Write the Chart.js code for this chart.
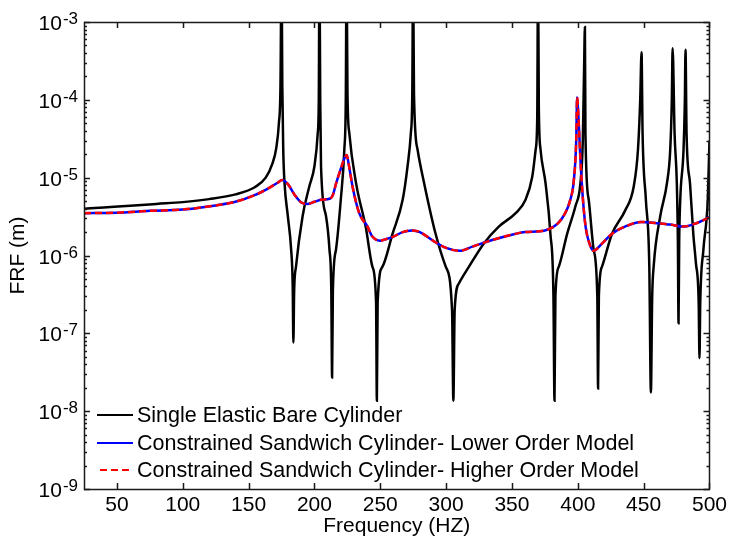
<!DOCTYPE html>
<html><head><meta charset="utf-8">
<script src="https://cdn.jsdelivr.net/npm/chart.js@4.4.1/dist/chart.umd.min.js"></script>
<style>html,body{margin:0;padding:0;background:#fff;}#wrap{width:731px;height:542px;position:relative;}</style>
</head><body><div id="wrap"><canvas id="c" width="731" height="542"></canvas></div>
<script>
// ---- data ----
const bareFreq = [25,40,60,80,100,120,140,155,163,168,171,173,174.2,175,175.6,176.3,177.3,179.8,182.3,183.5,184,184.6,186,191,196,200,202.5,203.3,203.8,204.4,205,208.8,211.4,212.8,213.4,214,216.4,220,222.7,223.8,224.4,225.1,226.5,231.6,239,244,246.8,247.4,248,251.7,259.3,267,270.7,273.2,274.3,274.9,275.6,278.3,283.3,292,299.7,304.5,305.5,306.5,309.8,317.4,328.8,340,352.8,360.3,365.4,368,369.2,369.8,370.4,371.7,375.5,379.2,381.5,382.3,383,385.6,391.9,398.2,402,403.8,404.8,405.4,405.8,408.3,412,414.8,415.4,416,418.4,426,436,442.4,445.7,447.4,448.4,449.2,451.7,454.3,455.5,456.5,457.6,462.6,467.7,470.2,471.4,472,473.5,475.2,476,476.5,477,477.8,480.3,481.3,481.8,482.6,485.2,487.7,489.7,491.8,492.4,493,495.4,498.7,499.5,500];
const bareFRF = [4.0e-6,4.15e-6,4.35e-6,4.6e-6,4.85e-6,5.3e-6,6.1e-6,7.6e-6,1.0e-5,1.5e-5,2.4e-5,5.0e-5,1.5e-4,5e-3,1.5e-4,2.3e-5,8.5e-6,3.2e-6,1.2e-6,4e-7,7.6e-8,3.5e-7,7.2e-7,3.2e-6,7.6e-6,1.4e-5,3.7e-5,1.0e-4,5e-3,1.0e-4,1.4e-5,3.2e-6,1.2e-6,3.5e-7,2.7e-8,3.5e-7,1.2e-6,5.2e-6,2.3e-5,1.0e-4,5e-3,1.2e-4,3.7e-5,8.5e-6,2.3e-6,7.2e-7,2.5e-7,1.36e-8,2.5e-7,7.2e-7,1.9e-6,5.2e-6,1.4e-5,3.7e-5,1.2e-4,5e-3,1.2e-4,2.3e-5,8.5e-6,1.9e-6,7.2e-7,2e-7,1.36e-8,2e-7,4.4e-7,7.2e-7,1.44e-6,2.35e-6,3.5e-6,5.2e-6,1.03e-5,2.3e-5,6e-5,5e-3,8e-5,2.3e-5,8.5e-6,1.9e-6,3e-7,1.36e-8,3e-7,7.2e-7,1.9e-6,4.3e-6,8.5e-6,3e-5,2.7e-4,8.6e-4,3.7e-5,5.2e-6,1.2e-6,3e-7,1.95e-8,3e-7,7.2e-7,1.9e-6,3.8e-6,7.6e-6,2.3e-5,1e-4,4.1e-4,3.7e-5,5.2e-6,7.2e-7,1.74e-8,3e-7,7.2e-7,3.2e-6,8.5e-6,2.3e-5,1e-4,4.6e-4,3.7e-5,8.5e-6,1.5e-6,1.35e-7,1.5e-6,5.2e-6,2.3e-5,1e-4,4.4e-4,3.7e-5,8.5e-6,1.9e-6,8e-7,2.5e-7,4.8e-8,2.5e-7,1.2e-6,5.2e-6,1.5e-5,3e-5];
const sandFreq = [25,50,75,100,125,140,155,165,172,175.5,180,185,190,195,200,205,212,214,216.5,220,223,224.5,226,229,234,240,244,250,253,260,267,274,280,290,300,310,320,335,350,360,375,385,390,394,397,398.8,399.5,400.5,402,404,406,409,412,418,426,437,448,460,470,480,490,500];
const lowerFRF = [3.5e-6,3.55e-6,3.75e-6,3.9e-6,4.4e-6,4.9e-6,6.0e-6,7.3e-6,8.6e-6,9.3e-6,8.2e-6,6.0e-6,4.8e-6,4.6e-6,4.9e-6,5.2e-6,5.4e-6,6.0e-6,8.5e-6,1.3e-5,1.8e-5,1.95e-5,1.5e-5,7.6e-6,3.5e-6,2.4e-6,1.75e-6,1.55e-6,1.6e-6,1.75e-6,2.0e-6,2.1e-6,2.0e-6,1.55e-6,1.25e-6,1.15e-6,1.3e-6,1.58e-6,1.85e-6,2.0e-6,2.1e-6,2.6e-6,3.4e-6,5e-6,9.3e-6,3e-5,1.08e-4,6e-5,1.7e-5,5e-6,2.3e-6,1.4e-6,1.15e-6,1.4e-6,1.9e-6,2.4e-6,2.7e-6,2.6e-6,2.5e-6,2.35e-6,2.6e-6,3.1e-6];
const higherFRF = [3.5e-6,3.55e-6,3.75e-6,3.9e-6,4.4e-6,4.9e-6,6.0e-6,7.3e-6,8.6e-6,9.3e-6,8.2e-6,6.0e-6,4.8e-6,4.6e-6,4.9e-6,5.2e-6,5.4e-6,6.0e-6,8.5e-6,1.3e-5,1.8e-5,1.95e-5,1.5e-5,7.6e-6,3.5e-6,2.4e-6,1.75e-6,1.55e-6,1.6e-6,1.75e-6,2.0e-6,2.1e-6,2.0e-6,1.55e-6,1.25e-6,1.15e-6,1.3e-6,1.58e-6,1.85e-6,2.0e-6,2.1e-6,2.6e-6,3.4e-6,5e-6,9.3e-6,3e-5,1.08e-4,6e-5,1.7e-5,5e-6,2.3e-6,1.4e-6,1.15e-6,1.4e-6,1.9e-6,2.4e-6,2.7e-6,2.6e-6,2.5e-6,2.35e-6,2.6e-6,3.1e-6];
const seriesNames = ['Single Elastic Bare Cylinder','Constrained Sandwich Cylinder- Lower Order Model','Constrained Sandwich Cylinder- Higher Order Model'];
const xTickValues = [50,100,150,200,250,300,350,400,450,500];
const yExponents = [-9,-8,-7,-6,-5,-4,-3];
const xTitle = 'Frequency (HZ)';
const yTitle = 'FRF (m)';

const FONT = '"Liberation Sans", Arial, Helvetica, sans-serif';
const toXY = (xs, ys) => xs.map((x, i) => ({x: x, y: ys[i]}));

const frameAndLabels = {
  id: 'frameAndLabels',
  afterDatasetsDraw(chart) {
    const {ctx, chartArea: a, scales} = chart;
    const xs = scales.x, ys = scales.y;
    ctx.save();
    ctx.strokeStyle = '#1a1a1a';
    ctx.lineWidth = 1.5;
    ctx.beginPath();
    xTickValues.forEach(v => {
      const px = Math.round(xs.getPixelForValue(v)) + 0.5;
      ctx.moveTo(px, a.bottom); ctx.lineTo(px, a.bottom - 6);
      ctx.moveTo(px, a.top); ctx.lineTo(px, a.top + 6);
    });
    yExponents.forEach(k => {
      for (let m = 1; m <= 9; m++) {
        if (k === -3 && m > 1) break;
        const py = Math.round(ys.getPixelForValue(m * Math.pow(10, k))) + 0.5;
        const len = m === 1 ? 6 : 3;
        ctx.moveTo(a.left, py); ctx.lineTo(a.left + len, py);
        ctx.moveTo(a.right, py); ctx.lineTo(a.right - len, py);
      }
    });
    ctx.stroke();
    ctx.strokeRect(Math.round(a.left) + 0.5, Math.round(a.top) + 0.5, Math.round(a.right - a.left), Math.round(a.bottom - a.top));

    ctx.fillStyle = '#000';
    ctx.textAlign = 'right';
    ctx.textBaseline = 'alphabetic';
    yExponents.forEach(k => {
      const py = ys.getPixelForValue(Math.pow(10, k));
      const exp = String(k);
      ctx.font = '17px ' + FONT;
      const w = ctx.measureText(exp).width;
      const xr = 78;
      ctx.fillText(exp, xr, py + 2);
      ctx.font = '21px ' + FONT;
      ctx.fillText('10', xr - w - 1, py + 8);
    });

    const rows = [
      {y: 415, color: '#000', dash: []},
      {y: 443, color: '#0000ff', dash: []},
      {y: 470, color: '#ff0000', dash: [7, 4]}
    ];
    ctx.textAlign = 'left';
    ctx.textBaseline = 'middle';
    ctx.font = '21.5px ' + FONT;
    rows.forEach((r, i) => {
      ctx.strokeStyle = r.color;
      ctx.lineWidth = 2;
      ctx.setLineDash(r.dash);
      ctx.beginPath();
      ctx.moveTo(i === 2 ? 100 : 97, r.y); ctx.lineTo(133, r.y);
      ctx.stroke();
      ctx.setLineDash([]);
      ctx.fillStyle = '#000';
      ctx.fillText(seriesNames[i], 137, r.y + 1);
    });
    ctx.restore();
  }
};

new Chart(document.getElementById('c'), {
  type: 'line',
  data: {
    datasets: [
      {label: seriesNames[0], data: toXY(bareFreq, bareFRF), borderColor: '#000', borderWidth: 2.5, pointRadius: 0, cubicInterpolationMode: 'monotone', order: 3},
      {label: seriesNames[1], data: toXY(sandFreq, lowerFRF), borderColor: '#0000ff', borderWidth: 2.5, pointRadius: 0, cubicInterpolationMode: 'monotone', order: 2},
      {label: seriesNames[2], data: toXY(sandFreq, higherFRF), borderColor: '#ff0000', borderWidth: 2.5, borderDash: [7, 4], pointRadius: 0, cubicInterpolationMode: 'monotone', order: 1}
    ]
  },
  options: {
    responsive: false,
    animation: false,
    devicePixelRatio: 1,
    layout: {padding: {top: 22, right: 20, left: 0, bottom: 0}},
    plugins: {legend: {display: false}, tooltip: {enabled: false}},
    scales: {
      x: {
        type: 'linear', min: 25, max: 500,
        afterBuildTicks: s => { s.ticks = xTickValues.map(v => ({value: v})); },
        afterFit: s => { s.height = 53; },
        grid: {display: false, drawTicks: false},
        border: {display: false},
        ticks: {color: '#000', font: {family: FONT, size: 21}, padding: 4, maxRotation: 0, autoSkip: false},
        title: {display: true, text: xTitle, color: '#000', font: {family: FONT, size: 21, lineHeight: 1.2}, padding: 3}
      },
      y: {
        type: 'logarithmic', min: 1e-9, max: 1e-3,
        afterFit: s => { s.width = 84; },
        grid: {display: false, drawTicks: false},
        border: {display: false},
        ticks: {display: false},
        title: {display: true, text: yTitle, color: '#000', font: {family: FONT, size: 21, lineHeight: 1.2}, padding: 6}
      }
    }
  },
  plugins: [frameAndLabels]
});
</script></body></html>
